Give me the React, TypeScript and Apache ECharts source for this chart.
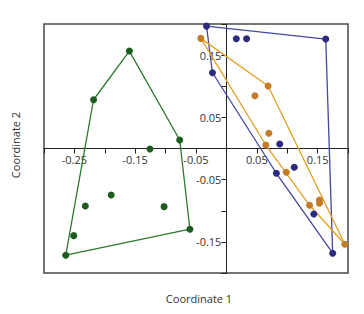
import React, { useEffect, useRef } from "react";
import * as echarts from "echarts";

const greenPoints: [number, number][] = [
  [-0.1596, 0.1565],
  [-0.2185, 0.0783],
  [-0.0768, 0.0136],
  [-0.06, -0.1297],
  [-0.2642, -0.1714],
  [-0.2511, -0.14],
  [-0.232, -0.0923],
  [-0.1895, -0.0746],
  [-0.1025, -0.0934],
  [-0.1258, -0.0008],
];

const bluePoints: [number, number][] = [
  [-0.0327, 0.1966],
  [-0.0229, 0.1217],
  [0.0163, 0.1762],
  [0.0332, 0.1762],
  [0.1634, 0.1758],
  [0.0877, 0.0072],
  [0.0822, -0.0398],
  [0.1116, -0.0302],
  [0.1438, -0.1051],
  [0.1748, -0.1682],
];

const orangePoints: [number, number][] = [
  [-0.042, 0.1769],
  [0.0686, 0.1003],
  [0.0469, 0.0848],
  [0.0698, 0.0244],
  [0.0649, 0.0056],
  [0.0985, -0.0382],
  [0.1368, -0.0912],
  [0.1531, -0.0827],
  [0.1531, -0.088],
  [0.1949, -0.1538],
];

const xTitle = "Coordinate 1";
const yTitle = "Coordinate 2";

const xMin = -0.3;
const xMax = 0.2;
const yMin = -0.2;
const yMax = 0.2;

function convexHull(pts: [number, number][]): [number, number][] {
  const p = pts.slice().sort((a, b) => (a[0] === b[0] ? a[1] - b[1] : a[0] - b[0]));
  const cross = (o: number[], a: number[], b: number[]) =>
    (a[0] - o[0]) * (b[1] - o[1]) - (a[1] - o[1]) * (b[0] - o[0]);
  const lower: [number, number][] = [];
  for (const q of p) {
    while (lower.length >= 2 && cross(lower[lower.length - 2], lower[lower.length - 1], q) <= 0) lower.pop();
    lower.push(q);
  }
  const upper: [number, number][] = [];
  for (let i = p.length - 1; i >= 0; i--) {
    const q = p[i];
    while (upper.length >= 2 && cross(upper[upper.length - 2], upper[upper.length - 1], q) <= 0) upper.pop();
    upper.push(q);
  }
  upper.pop();
  lower.pop();
  const h = lower.concat(upper);
  return h.concat([h[0]]);
}

const labelFmt = (v: number) => {
  const k = Math.round(v / 0.05);
  if (Math.abs(k) % 2 === 1) return String(Math.round(v * 100) / 100);
  return "";
};

const W = 364;
const H = 314;
const G = { left: 44, right: 16, top: 24, bottom: 41 };

export default function App() {
  const ref = useRef<HTMLDivElement>(null);
  useEffect(() => {
    if (!ref.current) return;
    const chart = echarts.init(ref.current, undefined, { renderer: "svg" });
    const groups = [
      { pts: greenPoints, marker: "#1d5c1f", line: "#2a7a2c" },
      { pts: bluePoints, marker: "#2b2b80", line: "#4646a0" },
      { pts: orangePoints, marker: "#c27c26", line: "#e2a024" },
    ];
    const series: any[] = [];
    groups.forEach((g) => {
      series.push({
        type: "line",
        data: convexHull(g.pts),
        showSymbol: false,
        symbol: "none",
        lineStyle: { color: g.line, width: 1.3 },
        z: 2,
      });
    });
    groups.forEach((g) => {
      series.push({
        type: "scatter",
        data: g.pts,
        symbolSize: 7,
        itemStyle: { color: g.marker, opacity: 1 },
        z: 3,
      });
    });
    const plotW = W - G.left - G.right;
    const plotH = H - G.top - G.bottom;
    const zeroXpx = ((0 - xMin) / (xMax - xMin)) * plotW; // from left edge
    const zeroYpx = ((0 - yMin) / (yMax - yMin)) * plotH; // from bottom edge
    const axisCommon = {
      type: "value",
      interval: 0.05,
      splitLine: { show: false },
      axisLine: { show: true, onZero: false, lineStyle: { color: "#222", width: 1 } },
      axisTick: { show: true, length: 5, lineStyle: { color: "#222" } },
      axisLabel: {
        formatter: labelFmt,
        color: "#333",
        fontSize: 11,
        fontFamily: "Open Sans",
        margin: 5,
        showMinLabel: true,
        showMaxLabel: true,
      },
      z: 1,
    };
    chart.setOption({
      animation: false,
      grid: {
        left: G.left,
        right: G.right,
        top: G.top,
        bottom: G.bottom,
        show: true,
        borderColor: "#4a4a4a",
        borderWidth: 1.5,
        backgroundColor: "transparent",
      },
      xAxis: { ...axisCommon, min: xMin, max: xMax, position: "bottom", offset: -zeroYpx },
      yAxis: { ...axisCommon, min: yMin, max: yMax, position: "left", offset: -zeroXpx },
      graphic: [
        {
          type: "text",
          x: 199,
          y: 298,
          style: {
            text: xTitle,
            fill: "#333",
            font: "11px 'Open Sans'",
            textAlign: "center",
            textVerticalAlign: "middle",
          },
        },
        {
          type: "text",
          x: 15,
          y: 145,
          rotation: Math.PI / 2,
          style: {
            text: yTitle,
            fill: "#333",
            font: "11px 'Open Sans'",
            textAlign: "center",
            textVerticalAlign: "middle",
          },
        },
      ],
      series,
    });
    return () => chart.dispose();
  }, []);
  return (
    <div
      ref={ref}
      style={{ position: "fixed", left: 0, top: 0, width: W, height: H, background: "#fff" }}
    />
  );
}
